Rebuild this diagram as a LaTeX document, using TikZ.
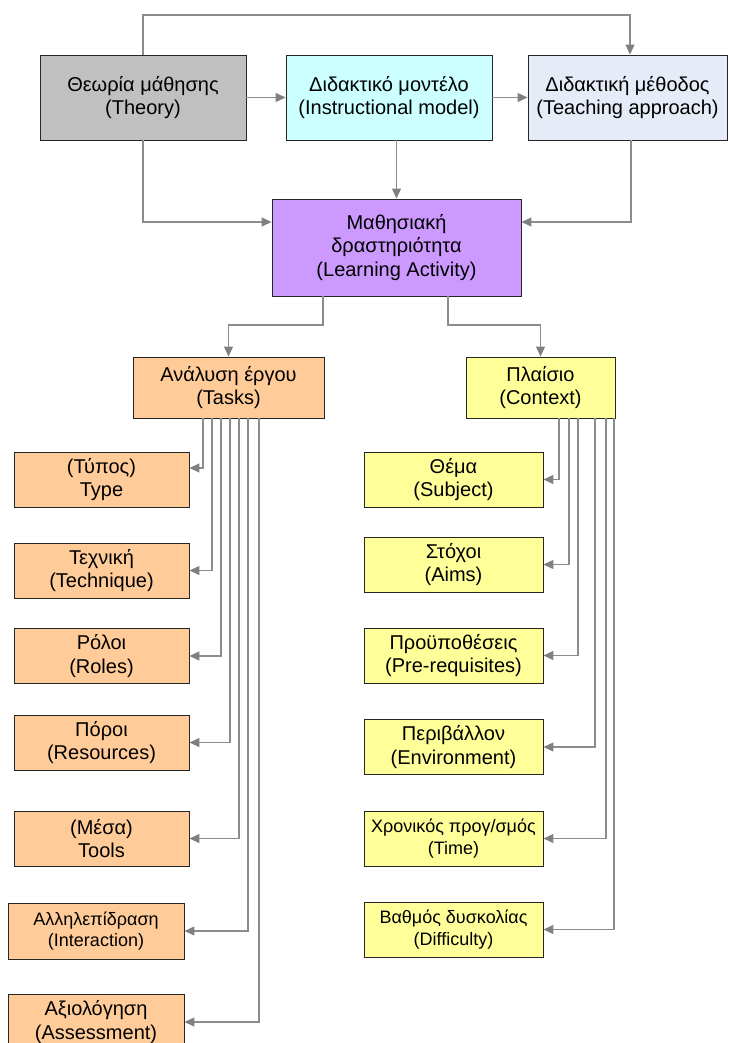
\documentclass[tikz,border=0pt]{standalone}
\usepackage{fontspec}
\setmainfont{Liberation Sans}
\usetikzlibrary{arrows.meta}
\definecolor{thfill}{HTML}{C0C0C0}
\definecolor{imfill}{HTML}{CCFFFF}
\definecolor{tafill}{HTML}{E6EBF8}
\definecolor{lafill}{HTML}{CC99FF}
\definecolor{tkfill}{HTML}{FFCC99}
\definecolor{cxfill}{HTML}{FFFF99}
\definecolor{linegray}{HTML}{8C8C8C}
\tikzset{
  box/.style={draw=black!85, line width=0.9pt, align=center, inner sep=0pt,
    font=\fontsize{20}{23.5}\selectfont, text=black},
  wh/.style 2 args={minimum width=#1pt, minimum height=#2pt},
  small/.style={font=\fontsize{18}{21.5}\selectfont},
  lbox/.style={box, fill=tkfill, wh={175}{55}},
  rbox/.style={box, fill=cxfill, wh={179}{55}},
  conn/.style={draw=linegray, line width=1.2pt,
    -{Triangle[length=10pt,width=9pt,color=black!50,fill=black!50]}},
}
\begin{document}
\begin{tikzpicture}[x=1pt,y=-1pt]
\fill[white] (0,0) rectangle (730,1043);
\useasboundingbox (0,0) rectangle (730,1043);

% top row
\node[box, fill=thfill, wh={206}{85}] (th) at (143,97.5) {Θεωρία μάθησης\\(Theory)};
\node[box, fill=imfill, wh={206}{85}] (im) at (389,97.5) {Διδακτικό μοντέλο\\(Instructional model)};
\node[box, fill=tafill, wh={199}{85}] (ta) at (627.5,97.5) {Διδακτική μέθοδος\\(Teaching approach)};

% learning activity
\node[box, fill=lafill, wh={249}{97}] (la) at (396.5,247.5) {Μαθησιακή\\δραστηριότητα\\(Learning Activity)};

% second level
\node[box, fill=tkfill, wh={191}{61}] (tk) at (228.5,387.5) {Ανάλυση έργου\\(Tasks)};
\node[box, fill=cxfill, wh={149}{61}] (cx) at (540.5,387.5) {Πλαίσιο\\(Context)};

% task children
\node[lbox] (type) at (101.5,479.5) {(Τύπος)\\Type};
\node[lbox] (tech) at (101.5,570.5) {Τεχνική\\(Technique)};
\node[lbox] (roles) at (101.5,656) {Ρόλοι\\(Roles)};
\node[lbox] (res) at (101.5,742.5) {Πόροι\\(Resources)};
\node[lbox] (tools) at (101.5,838.5) {(Μέσα)\\Tools};
\node[lbox, small, wh={176}{56}] (inter) at (96,931) {Αλληλεπίδραση\\(Interaction)};
\node[lbox, wh={176}{56}] (assess) at (96,1022) {Αξιολόγηση\\(Assessment)};

% context children
\node[rbox] (subj) at (453.5,479.5) {Θέμα\\(Subject)};
\node[rbox] (aims) at (453.5,564.5) {Στόχοι\\(Aims)};
\node[rbox] (prereq) at (453.5,655.5) {Προϋποθέσεις\\(Pre-requisites)};
\node[rbox] (env) at (453.5,747) {Περιβάλλον\\(Environment)};
\node[rbox, small] (time) at (453.5,838.5) {Χρονικός προγ/σμός\\(Time)};
\node[rbox, small] (diff) at (453.5,929.5) {Βαθμός δυσκολίας\\(Difficulty)};

% connectors top
\coordinate (topr) at (630,15);
\draw[conn] (th.north) |- (topr) -- (topr |- ta.north);
\draw[conn] (th.east) -- (im.west);
\draw[conn] (im.east) -- (ta.west);
\coordinate (lj) at (143,222);
\coordinate (rj) at (631,222);
\draw[conn] (th.south) |- (la.west |- lj);
\draw[conn] (ta.south -| rj) |- (la.east |- rj);
\draw[conn] (im.south -| la.north) -- (la.north);

% from learning activity
\coordinate (tj) at (323,325);
\coordinate (cj) at (448,325);
\draw[conn] (la.south -| tj) -- (tj) -| (tk.north);
\draw[conn] (la.south -| cj) -- (cj) -| (cx.north);

% task children connectors
\coordinate (typearr) at (203,468);
\draw[conn] (tk.south -| typearr) |- (typearr -| type.east);
\foreach \n/\x in {tech/212, roles/221, res/230, tools/239, inter/248, assess/259} {
  \coordinate (c\n) at (\x,0);
  \draw[conn] (tk.south -| c\n) |- (\n.east);
}
% context children connectors
\foreach \n/\x in {subj/559, aims/569, prereq/578, env/595, time/606, diff/614} {
  \coordinate (c\n) at (\x,0);
  \draw[conn] (cx.south -| c\n) |- (\n.east);
}
\end{tikzpicture}
\end{document}
